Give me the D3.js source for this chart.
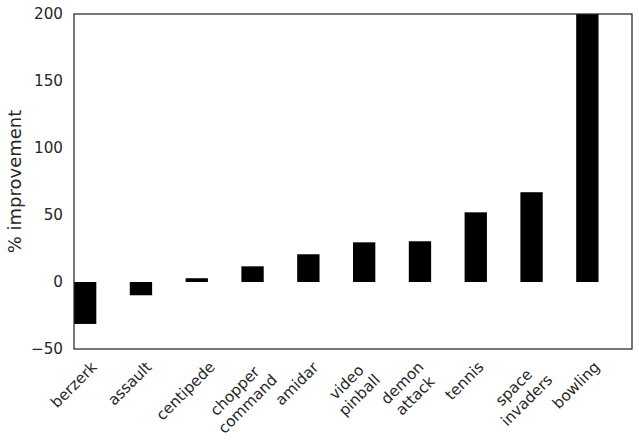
<!DOCTYPE html>
<html>
<head>
<meta charset="utf-8">
<script src="https://cdn.jsdelivr.net/npm/d3@7"></script>
<style>
  html, body { margin: 0; padding: 0; background: #fff; }
  svg { display: block; font-family: "DejaVu Sans", sans-serif; }
</style>
</head>
<body>
<svg id="chart" width="639" height="446"></svg>
<script>
const games = ["berzerk", "assault", "centipede", "chopper\ncommand", "amidar",
               "video\npinball", "demon\nattack", "tennis", "space\ninvaders", "bowling"];
const improvement = [-31.3, -9.9, 2.8, 11.7, 20.7, 29.6, 30.4, 52.0, 67.0, 210];
const yTicks = [-50, 0, 50, 100, 150, 200];
const yLabel = "% improvement";

const svg = d3.select("#chart");
const plot = { left: 74, right: 632, top: 14, bottom: 349 };
const textColor = "#262626";
const tickFont = 15.2;

const x = d3.scaleLinear().domain([0, 10]).range([plot.left, plot.right]);
const y = d3.scaleLinear().domain([-50, 200]).range([plot.bottom, plot.top]);
const barWidth = 0.4;

svg.append("defs").append("clipPath").attr("id", "clip")
  .append("rect")
  .attr("x", plot.left).attr("y", plot.top)
  .attr("width", plot.right - plot.left).attr("height", plot.bottom - plot.top);

svg.append("g").attr("clip-path", "url(#clip)")
  .selectAll("rect").data(improvement).join("rect")
  .attr("x", (d, i) => x(i))
  .attr("width", (d, i) => x(i + barWidth) - x(i))
  .attr("y", d => y(Math.max(0, d)))
  .attr("height", d => Math.abs(y(d) - y(0)))
  .attr("fill", "#000");

// frame
svg.append("rect")
  .attr("x", plot.left).attr("y", plot.top)
  .attr("width", plot.right - plot.left).attr("height", plot.bottom - plot.top)
  .attr("fill", "none").attr("stroke", textColor).attr("stroke-width", 1.25);

// y axis
const yAxis = d3.axisLeft(y).tickValues(yTicks).tickSize(0).tickPadding(11)
  .tickFormat(d => d < 0 ? "\u2212" + Math.abs(d) : String(d));
const yg = svg.append("g").attr("transform", `translate(${plot.left},0)`).call(yAxis);
yg.select(".domain").remove();
yg.selectAll("text").attr("font-size", tickFont).attr("fill", textColor)
  .attr("font-family", "DejaVu Sans");

// x tick labels (rotated 45°, centered on tick)
const xg = svg.append("g");
games.forEach((g, i) => {
  const grp = xg.append("g");
  const t = grp.append("text")
    .attr("text-anchor", "middle")
    .attr("font-size", tickFont)
    .attr("fill", textColor)
    .attr("transform", "rotate(-45)");
  const lines = g.split("\n");
  lines.forEach((ln, k) => {
    t.append("tspan").attr("x", 0).attr("dy", k === 0 ? 0 : "1.2em").text(ln);
  });
  const bb = grp.node().getBoundingClientRect();
  const cx = bb.left + bb.width / 2;
  const tx = x(i) - cx;
  const ty = 358 - bb.top;
  grp.attr("transform", `translate(${tx},${ty})`);
});

// y label
svg.append("text")
  .attr("transform", `translate(21,${(plot.top + plot.bottom) / 2}) rotate(-90)`)
  .attr("text-anchor", "middle")
  .attr("font-size", 18)
  .attr("fill", textColor)
  .text(yLabel);
</script>
</body>
</html>
